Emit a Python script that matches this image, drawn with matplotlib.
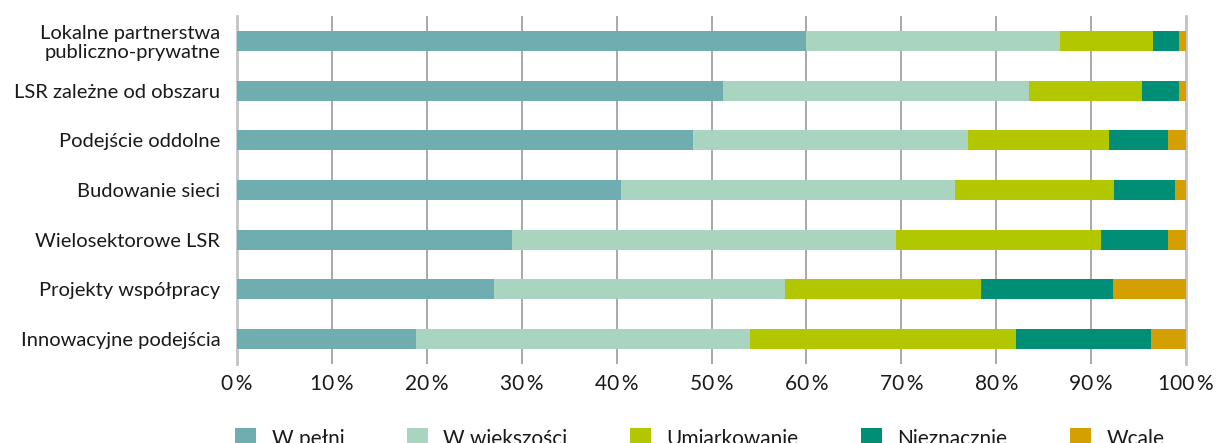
import matplotlib
matplotlib.use("Agg")
import matplotlib.pyplot as plt
import numpy as np

categories = [
    "Lokalne partnerstwa\npubliczno-prywatne",
    "LSR zależne od obszaru",
    "Podejście oddolne",
    "Budowanie sieci",
    "Wielosektorowe LSR",
    "Projekty współpracy",
    "Innowacyjne podejścia",
]
series_names = ["W pełni", "W większości", "Umiarkowanie", "Nieznacznie", "Wcale"]
w_pelni = [60.0, 51.2, 48.1, 40.5, 29.0, 27.1, 18.9]
w_wiekszosci = [26.7, 32.3, 28.9, 35.2, 40.4, 30.6, 35.2]
umiarkowanie = [9.8, 11.9, 14.9, 16.7, 21.6, 20.7, 28.0]
nieznacznie = [2.8, 3.9, 6.2, 6.4, 7.1, 13.9, 14.2]
wcale = [0.7, 0.7, 1.9, 1.2, 1.9, 7.7, 3.7]
colors = ["#70adb0", "#a9d5c0", "#b2c700", "#008f76", "#d49f00"]

plt.rcParams['font.family'] = ['Lato', 'DejaVu Sans']
plt.rcParams['text.color'] = '#1a1a1a'
plt.rcParams['xtick.color'] = '#1a1a1a'
plt.rcParams['ytick.color'] = '#1a1a1a'

fig = plt.figure(figsize=(12.17, 4.43), dpi=100)
ax = fig.add_axes([237 / 1217, 1 - 364 / 443, (1186 - 237) / 1217, 348 / 443])

y = np.arange(len(categories))
left = np.zeros(len(categories))
for name, vals, c in zip(series_names, [w_pelni, w_wiekszosci, umiarkowanie, nieznacznie, wcale], colors):
    ax.barh(y, vals, left=left, height=0.4, color=c, label=name, zorder=3)
    left += np.array(vals)

ax.set_ylim(6.5, -0.5)
ax.set_xlim(0, 100)
ax.set_xticks(range(0, 101, 10))
ax.set_xticklabels([f"{v}\u2009%" for v in range(0, 101, 10)], fontsize=15)
ax.set_yticks(y)
ax.set_yticklabels(categories, fontsize=14.5, linespacing=1.1)
ax.tick_params(axis='y', length=0, pad=12)
ax.tick_params(axis='x', length=0, pad=7)
ax.grid(axis='x', color='#9a9a9a', linewidth=1.2, zorder=0)
for s in ['top', 'bottom']:
    ax.spines[s].set_visible(False)
ax.spines['left'].set_color('#c4c4c4')
ax.spines['left'].set_linewidth(2)
ax.spines['right'].set_color('#c4c4c4')
ax.spines['right'].set_linewidth(2)

fig.legend(loc='upper left', bbox_to_anchor=(227 / 1217, 1 - 420 / 443), ncol=5,
           frameon=False, fontsize=15, handlelength=1.0, handleheight=1.0,
           handletextpad=0.75, columnspacing=3.0, borderaxespad=0)

fig.savefig("out.png", dpi=100)
